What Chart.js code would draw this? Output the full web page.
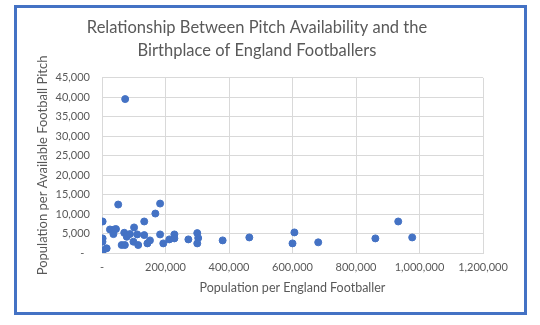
<!DOCTYPE html>
<html>
<head>
<meta charset="utf-8">
<script src="https://cdn.jsdelivr.net/npm/chart.js@4"></script>
<style>
  html, body { margin: 0; padding: 0; background: #fff; }
  #wrap { position: relative; width: 540px; height: 325px; }
  #frame { position: absolute; left: 14px; top: 5px; width: 507px; height: 304px;
           border: 3px solid #4472C4; pointer-events: none; }
</style>
</head>
<body>
<div id="wrap">
  <canvas id="chart" width="540" height="325"></canvas>
  <div id="frame"></div>
</div>
<script>
// population per England footballer
const popPerFootballer = [
  73000, 2000, 2000, 1500, 1000, 3000, 14700, 51000, 25000, 39000,
  36000, 44000, 70000, 78000, 62000, 72000, 88000, 101000, 99000, 111000,
  114000, 133000, 133000, 143000, 151000, 168000, 183000, 183000, 193000, 212000,
  228000, 228000, 272000, 300000, 303000, 300000, 380000, 464000, 606000, 600000,
  681000, 861000, 933000, 977000
];
// population per available football pitch
const popPerPitch = [
  39550, 8100, 3750, 2900, 330, 700, 1200, 12450, 6050, 6050,
  4850, 6150, 5200, 4170, 2050, 2050, 4860, 6570, 2900, 4770,
  2050, 8100, 4600, 2470, 3240, 10140, 12700, 4770, 2470, 3500,
  4770, 3750, 3500, 5110, 3840, 2470, 3240, 4000, 5290, 2470,
  2740, 3750, 8100, 4000
];

const xTicks = [0, 200000, 400000, 600000, 800000, 1000000, 1200000];
const yTicks = [0, 5000, 10000, 15000, 20000, 25000, 30000, 35000, 40000, 45000];

const points = popPerFootballer.map((x, i) => ({ x: x, y: popPerPitch[i] }));

const fmt = v => v === 0 ? '-' : v.toLocaleString('en-US');
const grey = '#595959';
const gridGrey = '#d9d9d9';
const fontFam = 'Lato, "Open Sans", sans-serif';

const ctx = document.getElementById('chart').getContext('2d');
new Chart(ctx, {
  type: 'scatter',
  data: {
    datasets: [{
      data: points,
      backgroundColor: '#4472C4',
      borderColor: '#4472C4',
      pointRadius: 3.5,
      pointHoverRadius: 3.5
    }]
  },
  options: {
    responsive: false,
    animation: false,
    layout: { padding: { left: 31, right: 57, top: 5, bottom: 26 } },
    plugins: {
      legend: { display: false },
      tooltip: { enabled: false },
      title: {
        display: true,
        text: ['Relationship Between Pitch Availability and the', 'Birthplace of England Footballers'],
        color: grey,
        font: { family: fontFam, size: 16.5, weight: 'normal', lineHeight: 1.42 },
        padding: { top: 11, bottom: 15 }
      }
    },
    scales: {
      x: {
        type: 'linear',
        min: 0,
        max: 1200000,
        afterBuildTicks: s => { s.ticks = xTicks.map(v => ({ value: v })); },
        afterFit: s => { s.height = 46; },
        grid: { color: gridGrey, drawTicks: false },
        border: { color: gridGrey },
        ticks: {
          color: grey,
          padding: 8,
          maxRotation: 0,
          font: { family: fontFam, size: 11 },
          callback: v => fmt(v)
        },
        title: {
          display: true,
          text: 'Population per England Footballer',
          color: grey,
          font: { family: fontFam, size: 12.5 },
          padding: { top: 4 }
        }
      },
      y: {
        min: 0,
        max: 45000,
        afterBuildTicks: s => { s.ticks = yTicks.map(v => ({ value: v })); },
        afterFit: s => { s.width = 71; },
        grid: { color: gridGrey, drawTicks: false },
        border: { display: false },
        ticks: {
          color: grey,
          padding: 12,
          font: { family: fontFam, size: 11 },
          callback: v => v === 0 ? '-  ' : fmt(v)
        },
        title: {
          display: true,
          text: 'Population per Available Football Pitch',
          color: grey,
          font: { family: fontFam, size: 13 }
        }
      }
    }
  }
});
</script>
</body>
</html>
